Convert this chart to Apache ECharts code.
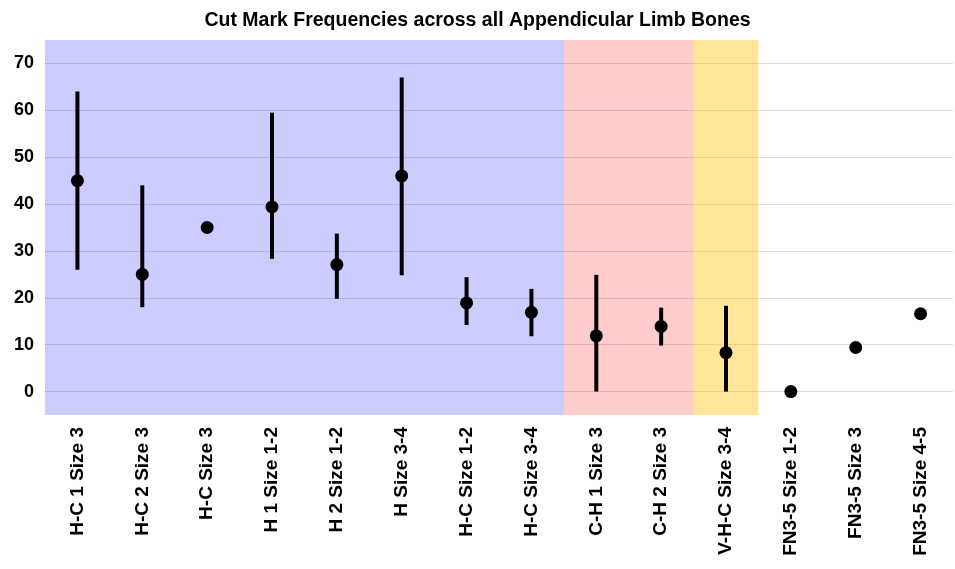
<!DOCTYPE html>
<html>
<head>
<meta charset="utf-8">
<script src="https://cdn.jsdelivr.net/npm/echarts@6/dist/echarts.min.js"></script>
<style>
  html, body { margin: 0; padding: 0; background: #fff; }
  #chart { width: 955px; height: 569px; }
</style>
</head>
<body>
<div id="chart"></div>
<script>
const CATEGORIES = [
  "H-C 1 Size 3", "H-C 2 Size 3", "H-C Size 3", "H 1 Size 1-2", "H 2 Size 1-2",
  "H Size 3-4", "H-C Size 1-2", "H-C Size 3-4", "C-H 1 Size 3", "C-H 2 Size 3",
  "V-H-C Size 3-4", "FN3-5 Size 1-2", "FN3-5 Size 3", "FN3-5 Size 4-5"
];
const MEANS = [45, 25, 35, 39.4, 27.1, 46, 18.9, 16.9, 11.9, 13.9, 8.3, 0, 9.4, 16.6];
const LOWS = [26, 18, null, 28.3, 19.8, 24.8, 14.2, 11.8, 0, 9.8, 0, null, null, null];
const HIGHS = [64, 44, null, 59.5, 33.7, 67, 24.4, 21.9, 24.9, 17.9, 18.3, null, null, null];
// background groups: [first category index, last index + 1, colour]
const GROUPS = [
  [0, 8, "rgba(0, 0, 255, 0.2)"],
  [8, 10, "rgba(255, 0, 0, 0.2)"],
  [10, 11, "rgba(255, 192, 0, 0.4)"]
];
const Y_MIN = -5;
const Y_MAX = 75;

const FONT = "'Liberation Sans', Arial, sans-serif";
const GRID_LINE = "rgba(0, 0, 0, 0.13)";

const chart = echarts.init(document.getElementById("chart"), null, { renderer: "canvas" });

const errorData = CATEGORIES.map((c, i) => [i, LOWS[i], HIGHS[i]]).filter((d) => d[1] != null);

chart.setOption({
  animation: false,
  backgroundColor: "#fff",
  title: {
    text: "Cut Mark Frequencies across all Appendicular Limb Bones",
    left: "center",
    top: 6,
    textStyle: { fontFamily: FONT, fontSize: 19.5, fontWeight: "bold", color: "#000" },
  },
  grid: { left: 45, right: 2, top: 40, bottom: 154, outerBoundsMode: "none" },
  xAxis: [
    {
      type: "category",
      data: CATEGORIES,
      axisLine: { show: false },
      axisTick: { show: false },
      axisLabel: {
        interval: 0,
        rotate: 90,
        margin: 12,
        fontFamily: FONT,
        fontSize: 19,
        fontWeight: "bold",
        color: "#000",
      },
    },
    { type: "value", min: 0, max: CATEGORIES.length, show: false },
  ],
  yAxis: {
    type: "value",
    min: Y_MIN,
    max: Y_MAX,
    splitNumber: 8,
    axisLine: { show: false },
    axisTick: { show: false },
    axisLabel: {
      showMinLabel: false,
      showMaxLabel: false,
      margin: 11,
      fontFamily: FONT,
      fontSize: 18,
      fontWeight: "bold",
      color: "#000",
    },
    splitLine: {
      lineStyle: {
        width: 1,
        color: ["transparent", GRID_LINE, GRID_LINE, GRID_LINE, GRID_LINE, GRID_LINE,
                GRID_LINE, GRID_LINE, GRID_LINE, "transparent"],
      },
    },
  },
  series: [
    {
      type: "line",
      xAxisIndex: 1,
      data: [],
      silent: true,
      markArea: {
        silent: true,
        data: GROUPS.map((g) => [
          { xAxis: g[0], itemStyle: { color: g[2] } },
          { xAxis: g[1] },
        ]),
      },
    },
    {
      type: "custom",
      z: 5,
      data: errorData,
      renderItem: (params, api) => {
        const lo = api.coord([api.value(0), api.value(1)]);
        const hi = api.coord([api.value(0), api.value(2)]);
        return {
          type: "line",
          shape: { x1: lo[0], y1: lo[1], x2: hi[0], y2: hi[1] },
          style: { stroke: "#000", lineWidth: 4 },
        };
      },
    },
    {
      type: "scatter",
      z: 6,
      data: MEANS,
      symbol: "circle",
      symbolSize: 13,
      itemStyle: { color: "#000", opacity: 1 },
    },
  ],
});
</script>
</body>
</html>
